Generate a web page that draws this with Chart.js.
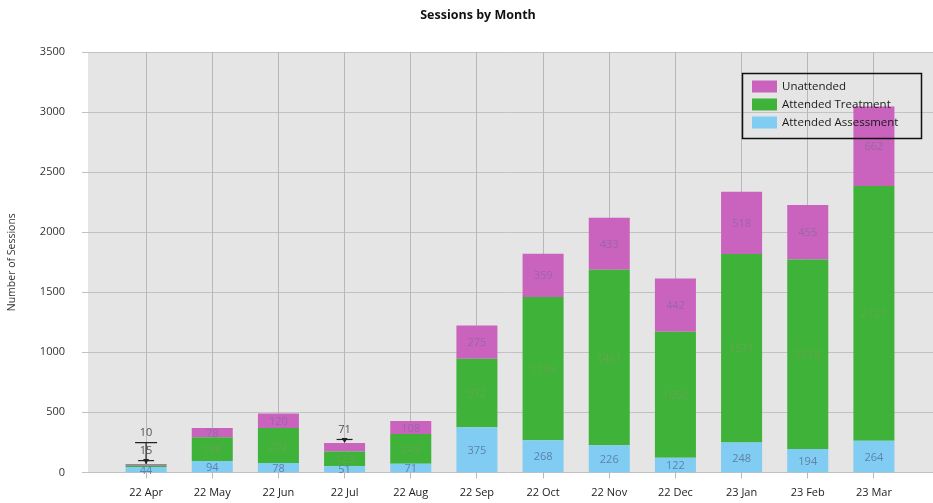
<!DOCTYPE html>
<html>
<head>
<meta charset="utf-8">
<script src="https://cdn.jsdelivr.net/npm/chart.js@4.4.0/dist/chart.umd.min.js"></script>
<style>
  html, body { margin: 0; padding: 0; background: #fff; overflow: hidden; }
  #wrap { position: relative; width: 933px; height: 519px; }
</style>
</head>
<body>
<div id="wrap"><canvas id="sessionsChart"></canvas></div>
<script>
const months = ['22 Apr', '22 May', '22 Jun', '22 Jul', '22 Aug', '22 Sep', '22 Oct', '22 Nov', '22 Dec', '23 Jan', '23 Feb', '23 Mar'];
const assessment = [44, 94, 78, 51, 71, 375, 268, 226, 122, 248, 194, 264];
const treatment = [15, 198, 292, 123, 249, 572, 1193, 1461, 1050, 1571, 1578, 2121];
const unattended = [10, 78, 120, 71, 108, 275, 359, 433, 442, 518, 455, 662];
const yTicks = [0, 500, 1000, 1500, 2000, 2500, 3000, 3500];

const FONT = '"Open Sans", "DejaVu Sans", sans-serif';
const labelColours = ['#5f82a8', '#63a64c', '#9a66a6'];

// grey plot panel + horizontal grid, wider than the category area
const plotBg = {
  id: 'plotBg',
  beforeDraw(chart) {
    const { ctx, chartArea, scales: { y } } = chart;
    ctx.save();
    ctx.fillStyle = '#e5e5e5';
    ctx.fillRect(88, chartArea.top, chart.width - 88, chartArea.bottom - chartArea.top);
    ctx.strokeStyle = '#c2c2c2';
    ctx.lineWidth = 1;
    y.ticks.forEach(t => {
      const py = Math.round(y.getPixelForValue(t.value)) + 0.5;
      ctx.beginPath();
      ctx.moveTo(82, py);
      ctx.lineTo(chart.width, py);
      ctx.stroke();
    });
    ctx.restore();
  }
};

const valueLabels = {
  id: 'valueLabels',
  afterDatasetsDraw(chart) {
    const { ctx } = chart;
    ctx.save();
    ctx.font = '11px ' + FONT;
    ctx.textAlign = 'center';
    ctx.textBaseline = 'middle';
    const n = chart.data.labels.length;
    for (let j = 0; j < n; j++) {
      let above = 0;
      let top = null;
      chart.data.datasets.forEach((ds, i) => {
        top = chart.getDatasetMeta(i).data[j].y;
      });
      chart.data.datasets.forEach((ds, i) => {
        const el = chart.getDatasetMeta(i).data[j];
        const h = el.base - el.y;
        if (i === 0 || h >= 9) {
          ctx.fillStyle = labelColours[i];
          ctx.fillText(ds.data[j], el.x, (el.y + el.base) / 2 + 1);
        } else {
          // too thin: put the value above the stack with a small leader
          const ly = top - 13 - above * 18;
          ctx.fillStyle = '#555';
          ctx.fillText(ds.data[j], el.x, ly);
          ctx.strokeStyle = '#222';
          ctx.lineWidth = 1.2;
          if (above === 0) {
            ctx.beginPath();
            ctx.moveTo(el.x - 8, top - 3.5);
            ctx.lineTo(el.x + 8, top - 3.5);
            ctx.stroke();
            ctx.beginPath();
            ctx.moveTo(el.x - 3, top - 5);
            ctx.lineTo(el.x + 3, top - 5);
            ctx.lineTo(el.x, top);
            ctx.closePath();
            ctx.fillStyle = '#222';
            ctx.fill();
          } else {
            ctx.beginPath();
            ctx.moveTo(el.x - 11, ly + 9.5);
            ctx.lineTo(el.x + 11, ly + 9.5);
            ctx.moveTo(el.x, ly + 9.5);
            ctx.lineTo(el.x, top);
            ctx.stroke();
          }
          above++;
        }
      });
    }
    ctx.restore();
  }
};

const titleAndLegend = {
  id: 'titleAndLegend',
  afterDraw(chart) {
    const { ctx } = chart;
    ctx.save();
    ctx.fillStyle = '#111';
    ctx.font = 'bold 12.5px ' + FONT;
    ctx.textAlign = 'center';
    ctx.textBaseline = 'middle';
    ctx.fillText('Sessions by Month', 478, 15);

    // legend box
    ctx.strokeStyle = '#111';
    ctx.lineWidth = 1.5;
    ctx.strokeRect(742.5, 73.5, 179, 65);
    ctx.font = '11.5px ' + FONT;
    ctx.textAlign = 'left';
    const rows = [2, 1, 0];
    rows.forEach((i, k) => {
      const ds = chart.data.datasets[i];
      const cy = 86.5 + k * 18;
      ctx.fillStyle = ds.backgroundColor;
      ctx.fillRect(752, cy - 6, 25, 12);
      ctx.fillStyle = '#1a1a1a';
      ctx.fillText(ds.label, 782, cy);
    });
    ctx.restore();
  }
};

const ctx = document.getElementById('sessionsChart').getContext('2d');
const sessionsChart = new Chart(ctx, {
  type: 'bar',
  data: {
    labels: months,
    datasets: [
      { label: 'Attended Assessment', data: assessment, backgroundColor: '#80ccf2' },
      { label: 'Attended Treatment', data: treatment, backgroundColor: '#3fb23a' },
      { label: 'Unattended', data: unattended, backgroundColor: '#c963bd' }
    ]
  },
  options: {
    responsive: true,
    maintainAspectRatio: false,
    animation: false,
    devicePixelRatio: 1,
    layout: { padding: { top: 52, right: 26, left: 0, bottom: 4 } },
    datasets: { bar: { barPercentage: 0.62, categoryPercentage: 1 } },
    plugins: {
      legend: { display: false },
      tooltip: { enabled: false },
      title: { display: false }
    },
    scales: {
      x: {
        stacked: true,
        grid: { offset: false, color: '#b8b8b8', tickLength: 6 },
        border: { display: false },
        ticks: { color: '#222', font: { family: FONT, size: 11 }, padding: 8, maxRotation: 0, autoSkip: false }
      },
      y: {
        stacked: true,
        min: 0,
        max: 3500,
        afterBuildTicks(scale) { scale.ticks = yTicks.map(v => ({ value: v })); },
        grid: { display: false },
        border: { display: false },
        ticks: {
          color: '#333',
          font: { family: FONT, size: 11 },
          padding: 40,
          callback: v => String(v)
        },
        title: {
          display: true,
          text: 'Number of Sessions',
          color: '#333',
          font: { family: FONT, size: 10.5 },
          padding: { top: 6, bottom: 0 }
        },
        afterFit(scale) { scale.width = 113; }
      }
    }
  },
  plugins: [plotBg, valueLabels, titleAndLegend]
});
</script>
</body>
</html>
